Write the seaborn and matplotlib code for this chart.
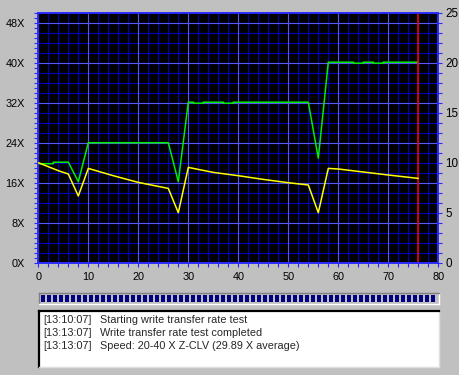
import numpy as np
import pandas as pd
import matplotlib
matplotlib.use("Agg")
import matplotlib.pyplot as plt
import seaborn as sns
from matplotlib.ticker import MultipleLocator

# ---- data ----
green_x = [0, 3, 3, 6, 8, 10, 26, 28, 30, 31, 31, 33, 33, 37, 37, 39, 39, 54, 56, 58,
           63, 63, 65, 65, 67, 67, 69, 69, 76]
green_y = [19.8, 19.8, 20.1, 20.1, 16.2, 24.0, 24.0, 16.2, 32.1, 32.1, 31.9, 31.9, 32.1,
           32.1, 31.9, 31.9, 32.1, 32.1, 20.9, 40.1, 40.1, 39.9, 39.9, 40.1, 40.1, 39.9,
           39.9, 40.1, 40.1]
yellow_x = [0, 2, 4, 6, 8, 10, 15, 20, 26, 28, 30, 35, 40, 45, 50, 54, 56, 58, 60, 65, 70, 76]
yellow_y = [10.0, 9.6, 9.2, 8.87, 6.67, 9.43, 8.7, 8.03, 7.43, 5.0, 9.53, 9.03, 8.7, 8.33,
            8.0, 7.77, 5.0, 9.43, 9.37, 9.07, 8.77, 8.43]
marker_x = 76
left_ticks = [0, 8, 16, 24, 32, 40, 48]
left_labels = [f"{v}X" for v in left_ticks]
right_ticks = [0, 5, 10, 15, 20, 25]
x_ticks = [0, 10, 20, 30, 40, 50, 60, 70, 80]
log_times = ["[13:10:07]", "[13:13:07]", "[13:13:07]"]
log_msgs = ["Starting write transfer rate test",
            "Write transfer rate test completed",
            "Speed: 20-40 X Z-CLV (29.89 X average)"]

sns.set_style("white")
plt.rcParams['font.family'] = ['Liberation Sans', 'DejaVu Sans']

W, H = 460, 375
fig = plt.figure(figsize=(W / 100, H / 100), dpi=100)
fig.patch.set_facecolor('#c0c0c0')

def rect(x0, y0, x1, y1):
    return [x0 / W, 1 - y1 / H, (x1 - x0) / W, (y1 - y0) / H]

minor_c = '#0000b8'
major_c = '#5858ff'
spine_c = '#2a2aff'
fs = 7.8

ax = fig.add_axes(rect(38.3, 12.7, 438.3, 262.7))
ax.set_facecolor('black')
ax.set_xlim(0, 80)
ax.set_ylim(0, 50)
ax.set_axisbelow(True)
for yv in np.arange(2, 50, 2):
    ax.axhline(yv, color=minor_c, lw=0.8, zorder=0.3)
ax.xaxis.set_major_locator(MultipleLocator(10))
ax.xaxis.set_minor_locator(MultipleLocator(2))
ax.set_yticks(left_ticks)
ax.set_yticklabels(left_labels)
ax.yaxis.set_minor_locator(MultipleLocator(1))
ax.grid(which='minor', axis='x', color=minor_c, lw=0.8, zorder=0.4)
ax.grid(which='major', axis='both', color=major_c, lw=0.8, zorder=0.5)

df_g = pd.DataFrame({'t': green_x, 'v': green_y})
sns.lineplot(data=df_g, x='t', y='v', ax=ax, color='#00ee00', lw=1.1,
             estimator=None, sort=False, zorder=3)
ax.axvline(marker_x, color='#ff0000', lw=1.1, zorder=4)
ax.set_xlabel('')
ax.set_ylabel('')

ax2 = ax.twinx()
ax2.set_ylim(0, 25)
ax2.set_yticks(right_ticks)
ax2.yaxis.set_minor_locator(MultipleLocator(1))
df_y = pd.DataFrame({'t': yellow_x, 'v': yellow_y})
sns.lineplot(data=df_y, x='t', y='v', ax=ax2, color='#ffff00', lw=1.1,
             estimator=None, sort=False, zorder=3)
ax2.set_ylabel('')
ax2.set_xlim(0, 80)
ax.set_xticks(x_ticks)

for a in (ax, ax2):
    for s in a.spines.values():
        s.set_color(spine_c)
        s.set_linewidth(1.2)

ax.tick_params(axis='y', which='both', left=True, direction='out', color=spine_c,
               length=2.6, width=0.8, pad=7, labelsize=fs, labelcolor='black')
ax.tick_params(axis='x', which='both', bottom=True, direction='out', color=spine_c,
               length=2.6, width=0.8, pad=4.3, labelsize=fs, labelcolor='black')
ax2.tick_params(axis='y', which='both', right=True, direction='out', color=spine_c,
                length=2.6, width=0.8, pad=2.5, labelsize=fs + 0.6, labelcolor='black')

# ---- progress bar ----
pb = fig.add_axes(rect(39, 293, 439, 303.5))
pb.set_facecolor('#c0c0c0')
n_blocks = 66
pb.bar(np.arange(n_blocks), 1, width=0.667, color='#000080', align='edge',
       linewidth=0, antialiased=False)
pb.set_xlim(-1 / 3, 400 / 6 - 1 / 3)
pb.set_ylim(-0.25, 1.25)
pb.set_xticks([])
pb.set_yticks([])
for k, s in pb.spines.items():
    s.set_linewidth(1.0)
    s.set_color('#808080' if k in ('top', 'left') else 'white')

# ---- log box ----
lb = fig.add_axes(rect(39, 311, 439, 367))
lb.set_facecolor('white')
lb.set_xticks([])
lb.set_yticks([])
for k, s in lb.spines.items():
    if k in ('top', 'left'):
        s.set_color('black')
        s.set_linewidth(1.6)
    else:
        s.set_color('#dfdfdf')
        s.set_linewidth(1.0)
ys = [0.84, 0.61, 0.375]
for t, m, yy in zip(log_times, log_msgs, ys):
    lb.text(0.01, yy, t, transform=lb.transAxes, va='center', ha='left', fontsize=fs)
    lb.text(0.1525, yy, m, transform=lb.transAxes, va='center', ha='left', fontsize=fs)

fig.savefig('out.png', dpi=100, facecolor=fig.get_facecolor())
